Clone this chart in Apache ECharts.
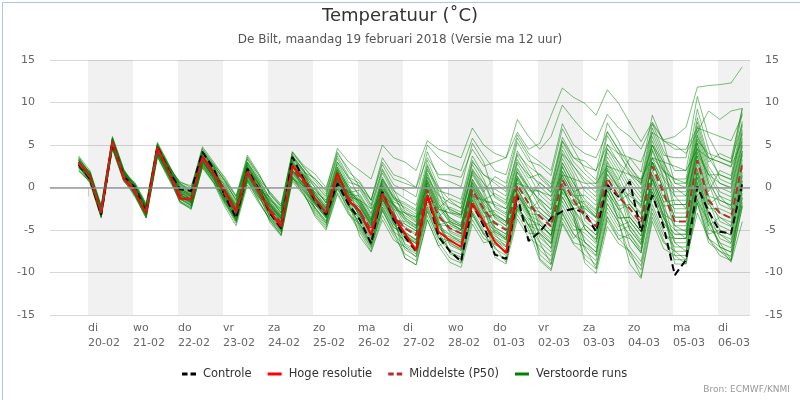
<!DOCTYPE html>
<html>
<head>
<meta charset="utf-8">
<title>Temperatuur De Bilt</title>
<script src="https://cdn.jsdelivr.net/npm/echarts@6.0.0/dist/echarts.min.js"></script>
<style>
  html, body { margin: 0; padding: 0; background: #ffffff; }
  #chart-container { width: 800px; height: 400px; }
</style>
</head>
<body>
<div id="chart-container"></div>
<script>
// day labels along the time axis (tick at 00:00 of each day)
const dayNames = ['di', 'wo', 'do', 'vr', 'za', 'zo', 'ma', 'di', 'wo', 'do', 'vr', 'za', 'zo', 'ma', 'di'];
const dayDates = ['20-02', '21-02', '22-02', '23-02', '24-02', '25-02', '26-02', '27-02', '28-02', '01-03', '02-03', '03-03', '04-03', '05-03', '06-03'];
const shadedDays = [0, 2, 4, 6, 8, 10, 12, 14];

// first value is 19-02 19:00, then every 6 hours (hours relative to 20-02 00:00)
const firstHour = -5;
const stepHours = 6;

const controle = [2.7, 1.0, -3.2, 5.3, 1.3, 0.0, -2.9, 4.8, 2.0, -0.2, -0.4, 4.2, 2.2, -1.0, -3.6, 2.2, -0.2,
    -3.0, -4.8, 3.6, 1.0, -1.5, -3.2, 0.5, -2.0, -3.8, -6.6, -0.5, -3.8, -5.8, -7.5, -0.9, -5.8,
    -7.5, -8.7, -1.9, -4.5, -7.9, -8.4, -1.0, -6.3, -5.2, -3.6, -2.8, -2.5, -3.0, -5.2, 0.3, -1.1,
    0.7, -5.2, -0.9, -4.6, -10.3, -8.5, 0.1, -2.8, -5.2, -5.4, 0.5];

const hogeResolutie = [3.0, 1.3, -3.0, 5.4, 1.1, -0.5, -3.0, 4.7, 1.9, -1.3, -1.4, 3.6, 1.7, -0.5, -2.8, 1.9, -0.4,
    -2.8, -4.6, 2.6, 0.9, -1.3, -3.0, 1.7, -1.5, -2.8, -5.6, -0.7, -3.4, -5.4, -7.4, -0.9, -5.2,
    -6.2, -7.0, -1.9, -4.0, -6.4, -7.7, -0.8];

const middelste = [2.8, 1.2, -2.9, 5.2, 1.4, -0.3, -2.8, 4.4, 1.9, -0.8, -1.5, 3.3, 1.5, -0.8, -3.0, 1.8, -0.3,
    -2.6, -4.2, 2.2, 0.6, -1.4, -3.0, 1.2, -1.2, -2.8, -5.0, -0.8, -3.2, -4.8, -5.6, -0.3, -3.4,
    -4.8, -5.4, -0.3, -2.5, -4.2, -5.0, 0.3, -1.9, -3.4, -4.6, 0.9, -1.5, -3.4, -4.6, 1.1, -1.1,
    -2.5, -4.2, 2.5, -0.7, -4.0, -4.0, 3.2, -1.5, -3.0, -3.6, 2.8];

const verstoordeRuns = [
    [3.1, 1.4, -2.7, 5.4, 1.6, -0.5, -3.0, 4.2, 1.7, -0.3, -1.0, 3.8, 2.0, -0.2, -2.4, 2.4, 0.3, -3.0, -4.6, 1.8, 0.2, -0.6, -2.2, 2.0, -0.4, -1.8, -4.0, 0.2, -2.2, -3.3, -4.1, 1.2, -1.9, -4.3, -4.9, 0.2, -2.0, -5.2, -6.0, -0.7, -2.9, -1.4, -2.6, 2.9, 0.5, -1.9, -3.1, 2.6, 0.4, -3.5, -5.2, 1.5, -1.7, -1.5, -1.5, 5.7, 1.0, -2.0, -2.6, 3.8],
    [2.4, 0.9, -3.2, 4.9, 1.1, 0.0, -2.5, 4.7, 2.2, -1.4, -2.1, 2.7, 0.9, -1.6, -3.8, 1.0, -1.1, -2.1, -3.7, 2.7, 1.1, -2.4, -4.0, 0.2, -2.2, -4.3, -6.5, -2.3, -4.7, -5.6, -6.4, -1.1, -4.2, -6.8, -7.4, -2.3, -4.5, -5.7, -6.5, -1.2, -3.4, -6.4, -7.6, -2.1, -4.5, -5.4, -6.6, -0.9, -3.1, -6.0, -7.7, -1.0, -4.2, -6.0, -6.0, 1.2, -3.5, -7.0, -7.6, -1.2],
    [3.4, 1.7, -2.4, 5.7, 1.9, 0.1, -2.4, 4.8, 2.3, 0.2, -0.5, 4.3, 2.5, -0.5, -2.7, 2.1, 0.0, -1.8, -3.4, 3.0, 1.4, 0.1, -1.5, 2.7, 0.3, -0.8, -3.0, 1.2, -1.2, -1.8, -2.6, 2.7, -0.4, -0.8, -1.4, 3.7, 1.5, 0.8, 0.0, 5.3, 3.1, 2.6, 1.4, 6.9, 4.5, 2.1, 0.9, 6.6, 4.4, 1.5, -0.2, 6.5, 3.3, -1.0, -1.0, 6.2, 1.5, 1.5, 0.9, 7.3],
    [2.6, 1.2, -2.9, 5.2, 1.4, -0.7, -3.2, 4.0, 1.5, -1.1, -1.8, 3.0, 1.2, -0.6, -2.8, 2.0, -0.1, -3.6, -5.2, 1.2, -0.4, -1.9, -3.5, 0.7, -1.7, -2.3, -4.5, -0.3, -2.7, -6.8, -7.6, -2.3, -5.4, -5.8, -6.4, -1.3, -3.5, -3.2, -4.0, 1.3, -0.9, -4.9, -6.1, -0.6, -3.0, -7.4, -8.6, -2.9, -5.1, -4.5, -6.2, 0.5, -2.7, -7.5, -7.5, -0.3, -5.0, -5.5, -6.1, 0.3],
    [2.9, 0.7, -3.4, 4.7, 0.9, 0.3, -2.2, 5.0, 2.5, -0.6, -1.3, 3.5, 1.7, -1.1, -3.3, 1.5, -0.6, -2.3, -3.9, 2.5, 0.9, -1.4, -3.0, 1.2, -1.2, -3.4, -5.6, -1.4, -3.8, -4.0, -4.8, 0.5, -2.6, -3.0, -3.6, 1.5, -0.7, -4.7, -5.5, -0.2, -2.4, -2.9, -4.1, 1.4, -1.0, -0.9, -2.1, 3.6, 1.4, -1.5, -3.2, 3.5, 0.3, -3.5, -3.5, 3.7, -1.0, -4.0, -4.6, 1.8],
    [2.2, 1.6, -2.5, 5.6, 1.8, -0.8, -3.3, 3.9, 1.4, -1.6, -2.3, 2.5, 0.7, -2.0, -4.2, 0.6, -1.5, -3.9, -5.5, 0.9, -0.7, -3.2, -4.8, -0.6, -3.0, -5.3, -7.5, -3.3, -5.7, -7.8, -8.6, -3.3, -6.4, -8.3, -8.9, -3.8, -6.0, -6.7, -7.5, -2.2, -4.4, -7.4, -8.6, -3.1, -5.5, -6.4, -7.6, -1.9, -4.1, -8.0, -9.7, -3.0, -6.2, -8.5, -8.5, -1.3, -6.0, -8.0, -8.6, -2.2],
    [3.3, 1.8, -2.3, 5.8, 2.0, 0.5, -2.0, 5.2, 2.7, 0.4, -0.3, 4.5, 2.7, 0.7, -1.5, 3.3, 1.2, -1.4, -3.0, 3.4, 1.8, 1.1, -0.5, 3.7, 1.3, -1.3, -3.5, 0.7, -1.7, -2.3, -3.1, 2.2, -0.9, -1.8, -2.4, 2.7, 0.5, -2.2, -3.0, 2.3, 0.1, -2.4, -3.6, 1.9, -0.5, 0.1, -1.1, 4.6, 2.4, 0.0, -1.7, 5.0, 1.8, 1.0, 1.0, 8.2, 3.5, 3.0, 2.4, 8.8],
    [2.8, 1.0, -3.1, 5.0, 1.2, -0.2, -2.7, 4.5, 2.0, -0.4, -1.1, 3.7, 1.9, -1.3, -3.5, 1.3, -0.8, -2.5, -4.1, 2.3, 0.7, -2.0, -3.6, 0.6, -1.8, -2.6, -4.8, -0.6, -3.0, -5.8, -6.6, -1.3, -4.4, -4.5, -5.1, 0.0, -2.2, -6.7, -7.5, -2.2, -4.4, -4.4, -5.6, -0.1, -2.5, -4.4, -5.6, 0.1, -2.1, -2.0, -3.7, 3.0, -0.2, -5.0, -5.0, 2.2, -2.5, -2.5, -3.1, 3.3],
    [3.7, 2.0, -2.1, 6.0, 2.2, -0.1, -2.6, 4.6, 2.1, -0.2, -0.9, 3.9, 2.1, 0.1, -2.1, 2.7, 0.6, -2.0, -3.6, 2.8, 1.2, -1.1, -2.7, 1.5, -0.9, -1.6, -3.8, 0.4, -2.0, -4.3, -5.1, 0.2, -2.9, -5.3, -5.9, -0.8, -3.0, -2.7, -3.5, 1.8, -0.4, -0.4, -1.6, 3.9, 1.5, -2.9, -4.1, 1.6, -0.6, -3.0, -4.7, 2.0, -1.2, -2.5, -2.5, 4.7, 0.0, 0.0, -0.6, 5.8],
    [2.0, 0.6, -3.5, 4.6, 0.8, -0.6, -3.1, 4.1, 1.6, -1.0, -1.7, 3.1, 1.3, 0.0, -2.2, 2.6, 0.5, -3.2, -4.8, 1.6, 0.0, -0.2, -1.8, 2.4, 0.0, -3.8, -6.0, -1.8, -4.2, -6.6, -7.4, -2.1, -5.2, -7.6, -8.2, -3.1, -5.3, -7.7, -8.5, -3.2, -5.4, -5.4, -6.6, -1.1, -3.5, -8.4, -9.6, -3.9, -6.1, -5.5, -7.2, -0.5, -3.7, -5.5, -5.5, 1.7, -3.0, -6.0, -6.6, -0.2],
    [3.0, 1.3, -2.8, 5.3, 1.5, 0.6, -1.9, 5.3, 2.8, 0.0, -0.7, 4.1, 2.3, -0.8, -3.0, 1.8, -0.3, -1.1, -2.7, 3.7, 2.1, -0.8, -2.4, 1.8, -0.6, -0.3, -2.5, 1.7, -0.7, -3.6, -4.4, 0.9, -2.2, -3.8, -4.4, 0.7, -1.5, -0.7, -1.5, 3.8, 1.6, -0.9, -2.1, 3.4, 1.0, -3.9, -5.1, 0.6, -1.6, -0.7, -2.4, 4.3, 1.1, -4.5, -4.5, 2.7, -2.0, -1.0, -1.6, 4.8],
    [2.5, 1.5, -2.6, 5.5, 1.7, -1.0, -3.5, 3.7, 1.2, -1.3, -2.0, 2.8, 1.0, -1.4, -3.6, 1.2, -0.9, -3.4, -5.0, 1.4, -0.2, -2.8, -4.4, -0.2, -2.6, -3.3, -5.5, -1.3, -3.7, -7.3, -8.1, -2.8, -5.9, -6.3, -6.9, -1.8, -4.0, -5.0, -5.8, -0.5, -2.7, -8.4, -9.6, -4.1, -6.5, -6.9, -8.1, -2.4, -4.6, -4.0, -5.7, 1.0, -2.2, -9.0, -9.0, -1.8, -6.5, -7.5, -8.1, -1.7],
    [3.2, 1.1, -3.0, 5.1, 1.3, 0.0, -2.5, 4.7, 2.2, -0.9, -1.6, 3.2, 1.4, 0.4, -1.8, 3.0, 0.9, -1.7, -3.3, 3.1, 1.5, 0.4, -1.2, 3.0, 0.6, 0.2, -2.0, 2.2, -0.2, -2.8, -3.6, 1.7, -1.4, -2.6, -3.2, 1.9, -0.3, -3.7, -4.5, 0.8, -1.4, 0.6, -0.6, 4.9, 2.5, 0.6, -0.6, 5.1, 2.9, 0.5, -1.2, 5.5, 2.3, -2.0, -2.0, 5.2, 0.5, -1.5, -2.1, 4.3],
    [2.7, 0.8, -3.3, 4.8, 1.0, -0.4, -2.9, 4.3, 1.8, -0.5, -1.2, 3.6, 1.8, -1.0, -3.2, 1.6, -0.5, -2.9, -4.5, 1.9, 0.3, -1.6, -3.2, 1.0, -1.4, -4.0, -6.2, -2.0, -4.4, -4.6, -5.4, -0.1, -3.2, -5.1, -5.7, -0.6, -2.8, -5.4, -6.2, -0.9, -3.1, -3.2, -4.4, 1.1, -1.3, -2.4, -3.6, 2.1, -0.1, -5.0, -6.7, 0.0, -3.2, -4.0, -4.0, 3.2, -1.5, -5.0, -5.6, 0.8],
    [3.0, 1.4, -2.6, 5.5, 1.8, 0.2, -2.3, 5.0, 2.6, 0.3, -0.4, 4.2, 2.4, 0.5, -1.4, 3.4, 1.5, -0.8, -2.2, 3.8, 2.0, 0.4, -1.0, 4.0, 2.2, 0.0, -1.5, 3.0, 1.0, 0.5, 0.0, 3.5, 1.5, 1.5, 1.2, 4.5, 2.5, 3.0, 3.5, 6.5, 4.5, 5.2, 8.5, 11.7, 10.6, 9.9, 8.5, 11.5, 9.9, 7.6, 5.4, 7.7, 5.6, 6.0, 7.1, 11.8, 12.0, 12.1, 12.3, 14.2],
    [2.9, 1.3, -2.7, 5.4, 1.6, 0.4, -2.1, 4.9, 2.4, 0.6, 0.2, 4.0, 2.6, 0.8, -1.0, 3.0, 1.0, -0.5, -2.0, 4.2, 2.4, 1.0, -0.3, 4.6, 3.0, 2.0, 1.0, 5.0, 3.5, 3.0, 2.0, 5.5, 4.5, 4.0, 3.5, 7.0, 5.0, 4.0, 3.5, 8.0, 6.0, 4.5, 6.0, 9.7, 8.0, 6.5, 5.5, 8.6, 7.0, 6.0, 4.5, 7.5, 5.5, 5.0, 4.0, 6.5, 9.0, 8.0, 9.0, 9.3],
    [3.0, 1.9, -2.2, 5.9, 2.1, 0.2, -2.3, 4.9, 2.4, 0.7, 0.0, 4.8, 3.0, 1.0, -1.2, 3.6, 1.5, -0.6, -2.2, 4.2, 2.6, 1.6, 0.0, 4.2, 1.8, 0.7, -1.5, 2.7, 0.3, -0.3, -1.1, 4.2, 1.1, 0.7, 0.1, 5.2, 3.0, -1.2, -2.0, 3.3, 1.1, 1.6, 0.4, 5.9, 3.5, 3.1, 1.9, 7.6, 5.4, 2.5, 0.8, 7.5, 4.3, 2.0, 2.0, 9.2, 4.5, 1.0, 0.4, 6.8],
    [2.3, 1.1, -3.0, 5.1, 1.3, -0.9, -3.4, 3.8, 1.3, -1.7, -2.4, 2.4, 0.6, -1.2, -3.4, 1.4, -0.7, -4.1, -5.7, 0.7, -0.9, -2.3, -3.9, 0.3, -2.1, -4.8, -7.0, -2.8, -5.2, -6.2, -7.0, -1.7, -4.8, -5.6, -6.2, -1.1, -3.3, -8.2, -9.0, -3.7, -5.9, -6.9, -8.1, -2.6, -5.0, -4.9, -6.1, -0.4, -2.6, -7.0, -8.7, -2.0, -5.2, -7.0, -7.0, 0.2, -4.5, -3.5, -4.1, 2.3],
    [3.5, 1.6, -2.5, 5.6, 1.8, 0.4, -2.1, 5.1, 2.6, -0.7, -1.4, 3.4, 1.6, -0.4, -2.6, 2.2, 0.1, -2.2, -3.8, 2.6, 1.0, -0.5, -2.1, 2.1, -0.3, -2.2, -4.4, -0.2, -2.6, -3.0, -3.8, 1.5, -1.6, -3.6, -4.2, 0.9, -1.3, -3.2, -4.0, 1.3, -0.9, -3.9, -5.1, 0.4, -2.0, -1.6, -2.8, 2.9, 0.7, -2.0, -3.7, 3.0, -0.2, 0.0, 0.0, 7.2, 2.5, 0.5, -0.1, 6.3],
    [2.5, 0.5, -3.6, 4.5, 0.7, -0.5, -3.0, 4.2, 1.7, -1.2, -1.9, 2.9, 1.1, -1.8, -4.0, 0.8, -1.3, -2.8, -4.4, 2.0, 0.4, -2.6, -4.2, 0.0, -2.4, -3.6, -5.8, -1.6, -4.0, -5.3, -6.1, -0.8, -3.9, -6.6, -7.2, -2.1, -4.3, -4.0, -4.8, 0.5, -1.7, -5.9, -7.1, -1.6, -4.0, -5.9, -7.1, -1.4, -3.6, -3.5, -5.2, 1.5, -1.7, -6.5, -6.5, 0.7, -4.0, -6.5, -7.1, -0.7],
    [2.9, 1.4, -2.7, 5.4, 1.6, -0.2, -2.7, 4.5, 2.0, -0.1, -0.8, 4.0, 2.2, -0.5, -2.7, 2.1, 0.0, -1.6, -3.2, 3.2, 1.6, -1.0, -2.6, 1.6, -0.8, -1.0, -3.2, 1.0, -1.4, -2.0, -2.8, 2.5, -0.6, -4.0, -4.6, 0.5, -1.7, -1.7, -2.5, 2.8, 0.6, -1.9, -3.1, 2.4, 0.0, -3.4, -4.6, 1.1, -1.1, 1.0, -0.7, 6.0, 2.8, -3.0, -3.0, 4.2, -0.5, 2.0, 1.4, 7.8],
    [2.6, 1.3, -2.8, 5.3, 1.5, -0.6, -3.1, 4.1, 1.6, -1.4, -2.1, 2.7, 0.9, -0.9, -3.1, 1.7, -0.4, -3.1, -4.7, 1.7, 0.1, -2.0, -3.6, 0.6, -1.8, -5.8, -7.6, -3.8, -6.2, -7.0, -7.8, -2.5, -5.6, -7.3, -7.9, -2.8, -5.0, -6.0, -6.8, -1.5, -3.7, -4.4, -5.6, -0.1, -2.5, -6.4, -7.6, -1.9, -4.1, -9.0, -10.7, -4.0, -7.2, -8.0, -8.0, -0.8, -5.5, -5.0, -5.6, 0.8],
    [3.1, 1.5, -2.6, 5.5, 1.7, 0.2, -2.3, 4.9, 2.4, 0.1, -0.6, 4.2, 2.4, 0.2, -2.0, 2.8, 0.7, -2.4, -4.0, 2.4, 0.8, -0.2, -1.8, 2.4, 0.0, -2.0, -4.2, 0.0, -2.4, -4.8, -5.6, -0.3, -3.4, -2.3, -2.9, 2.2, 0.0, -0.2, -1.0, 4.3, 2.1, 0.1, -1.1, 4.4, 2.0, -0.4, -1.6, 4.1, 1.9, -0.5, -2.2, 4.5, 1.3, -0.5, -0.5, 6.7, 2.0, -0.5, -1.1, 5.3],
    [1.9, 0.7, -3.4, 4.7, 0.9, -1.1, -3.6, 3.6, 1.1, -0.9, -1.6, 3.2, 1.4, -1.5, -3.7, 1.1, -1.0, -3.5, -5.1, 1.3, -0.3, -1.7, -3.3, 0.9, -1.5, -3.1, -5.3, -1.1, -3.5, -8.3, -9.1, -3.8, -6.9, -8.8, -9.4, -4.3, -6.5, -6.2, -7.0, -2.5, -3.9, -7.9, -9.1, -3.6, -6.0, -4.4, -5.6, 0.1, -2.1, -5.0, -6.7, 0.0, -3.2, -8.0, -9.0, -1.8, -6.0, -7.5, -8.6, -2.2],
    [3.3, 1.2, -2.9, 5.2, 1.4, -0.1, -2.6, 4.6, 2.1, -0.4, -1.1, 3.7, 1.9, -0.1, -2.3, 2.5, 0.4, -1.3, -2.9, 3.5, 1.9, -1.3, -2.9, 1.3, -1.1, -1.5, -3.7, 0.5, -1.9, -3.8, -4.6, 0.7, -2.4, -1.3, -1.9, 3.2, 1.0, -2.4, -3.2, 2.1, -0.1, -1.4, -2.6, 2.9, 0.5, -1.4, -2.6, 3.1, 0.9, 3.5, 1.8, 8.5, 5.3, 0.5, 0.5, 7.7, 3.0, 4.0, 3.4, 9.3],
    [2.4, 1.0, -3.1, 5.0, 1.2, 0.1, -2.4, 4.8, 2.3, -1.1, -1.8, 3.0, 1.2, -1.7, -3.9, 0.9, -1.2, -1.9, -3.5, 2.9, 1.3, -1.8, -3.4, 0.8, -1.6, -4.6, -6.8, -2.6, -5.0, -8.3, -9.1, -3.8, -6.9, -6.0, -6.6, -1.5, -3.7, -7.2, -8.0, -2.7, -4.9, -8.6, -9.8, -4.3, -6.7, -7.9, -9.1, -3.4, -5.6, -6.0, -7.7, -1.0, -4.2, -5.5, -5.5, 1.7, -3.0, -4.5, -5.1, 1.3],
    [3.6, 1.7, -2.4, 5.7, 1.9, -0.4, -2.9, 4.3, 1.8, 0.5, -0.2, 4.6, 2.8, 1.2, -1.0, 3.8, 1.7, -0.8, -2.4, 4.0, 2.4, 0.8, -0.8, 3.4, 1.0, 0.0, -2.2, 2.0, -0.4, -1.3, -2.1, 3.2, 0.1, -2.8, -3.4, 1.7, -0.5, 1.3, 0.5, 5.8, 3.6, 1.1, -0.1, 5.4, 3.0, 1.6, 0.4, 6.1, 3.9, 2.0, 0.3, 7.0, 3.8, 3.5, 3.5, 10.7, 6.0, 3.5, 2.9, 9.3],
    [2.1, 0.8, -3.3, 4.8, 1.0, -0.7, -3.2, 4.0, 1.5, -1.8, -2.5, 2.3, 0.5, -2.3, -4.5, 0.3, -1.8, -3.7, -5.3, 1.1, -0.5, -3.4, -5.0, -0.8, -3.2, -4.3, -6.5, -2.3, -4.7, -5.4, -6.2, -0.9, -4.0, -7.8, -8.4, -3.3, -5.5, -5.2, -6.0, -0.7, -2.9, -5.4, -6.6, -1.1, -3.5, -8.9, -10.1, -4.6, -6.6, -7.5, -9.2, -2.5, -5.7, -6.0, -6.0, 1.2, -3.5, -7.0, -7.6, -1.2],
    [2.8, 1.8, -2.3, 5.8, 2.0, 0.0, -2.5, 4.7, 2.2, -0.6, -1.3, 3.5, 1.7, -0.3, -2.5, 2.3, 0.2, -2.8, -4.4, 2.0, 0.4, -0.9, -2.5, 1.7, -0.7, -3.3, -5.5, -1.3, -3.7, -4.3, -5.1, 0.2, -2.9, -4.8, -5.4, -0.3, -2.5, -4.7, -5.5, -0.2, -2.4, -2.4, -3.6, 1.9, -0.5, -4.9, -6.1, -0.4, -2.6, -2.0, -3.7, 3.0, -0.2, -3.5, -3.5, 3.7, -1.0, -1.5, -2.1, 4.3],
    [3.0, 1.0, -3.1, 5.0, 1.2, -0.8, -3.3, 3.9, 1.4, -0.8, -1.5, 3.3, 1.5, -0.7, -2.9, 1.9, -0.2, -2.1, -3.7, 2.7, 1.1, -1.2, -2.8, 1.4, -1.0, -2.4, -4.6, -0.4, -2.8, -5.8, -6.6, -1.3, -4.4, -4.0, -4.6, 0.5, -1.7, -3.4, -4.2, 1.1, -1.1, -4.4, -5.6, -0.1, -2.5, -2.2, -3.4, 2.3, 0.1, -4.0, -5.7, 1.0, -2.2, -2.0, -2.0, 5.2, 0.5, -3.0, -3.6, 2.8],
    [2.9, 1.5, -2.5, 5.0, 1.8, 0.0, -2.2, 4.0, 2.0, -0.2, -0.8, 3.0, 1.5, -0.5, -2.0, 1.5, 0.0, -1.5, -2.5, 1.0, 0.2, -0.5, -1.5, 0.5, -0.5, -1.5, -2.5, -1.0, -2.0, -3.0, -3.5, -1.5, -2.5, -3.0, -3.2, -1.0, -1.5, -2.0, -2.5, 0.5, 0.0, -0.5, -1.0, 1.5, 1.0, 0.5, 0.5, 2.5, 2.0, 1.5, 1.0, 3.5, 3.0, 2.5, 2.0, 4.5, 3.5, 3.0, 2.5, 5.5],
    [2.5, 0.9, -3.3, 5.0, 1.0, -0.6, -3.3, 4.2, 1.6, -1.2, -2.2, 3.2, 1.0, -1.4, -3.8, 1.6, -0.8, -3.2, -5.0, 2.0, 0.0, -2.4, -4.2, 1.0, -2.0, -4.4, -6.8, -1.0, -4.2, -6.0, -7.2, -0.8, -4.6, -6.4, -7.4, -0.8, -4.0, -6.0, -7.4, 0.0, -3.0, -5.5, -7.2, 0.5, -3.2, -6.5, -8.0, 0.0, -4.0, -5.5, -7.5, 1.0, -3.5, -6.5, -7.5, 0.5, -4.5, -6.5, -8.5, 0.0],
    [3.2, 1.6, -2.6, 5.5, 1.9, 0.3, -2.4, 4.9, 2.5, 0.5, -0.6, 4.3, 2.6, 0.8, -1.6, 2.9, 0.8, -1.2, -3.0, 3.6, 2.0, 0.0, -1.8, 3.0, 1.2, 0.5, -1.5, 3.5, 1.5, 1.0, 0.0, 5.0, 3.5, 2.5, 2.0, 5.8, 3.8, 2.0, 1.5, 6.2, 4.0, 3.0, 2.0, 7.5, 5.0, 4.0, 3.5, 6.5, 4.5, 2.5, 0.5, 5.0, 2.0, 0.0, -1.0, 4.0, 1.5, 0.5, 0.0, 5.0],
    [2.6, 1.0, -3.0, 5.2, 1.3, -0.4, -2.9, 4.4, 1.8, -0.9, -1.4, 3.0, 1.3, -1.2, -3.4, 1.4, -0.8, -2.2, -3.6, 2.6, 0.8, -1.8, -3.4, 1.8, -0.8, -2.2, -4.2, 0.0, -2.2, -3.8, -4.8, 0.8, -2.0, -3.5, -4.5, 1.0, -1.2, -3.0, -4.0, 1.8, 0.0, -1.5, -3.5, 2.5, -0.5, -3.0, -5.0, 0.5, -2.5, -4.5, -6.5, -0.5, -3.5, -5.0, -6.0, -1.5, -4.0, -5.5, -6.5, -2.0],
    [2.4, 0.8, -3.4, 4.8, 0.8, -0.9, -3.6, 3.6, 1.0, -1.6, -2.6, 2.6, 0.6, -1.8, -4.0, 0.8, -1.6, -3.8, -5.6, 1.2, -0.8, -3.0, -4.6, 0.0, -2.8, -5.0, -7.2, -2.6, -5.4, -7.0, -8.2, -2.8, -6.0, -7.5, -8.8, -3.0, -5.5, -7.0, -8.8, -2.5, -4.5, -5.0, -6.5, -0.5, -2.0, -2.5, -3.5, 1.5, 0.0, -1.0, -2.0, 3.5, 2.0, 1.0, 0.5, 5.5, 4.0, 3.5, 3.0, 7.5],
    [3.0, 1.2, -2.8, 5.3, 1.6, -0.1, -2.6, 4.6, 2.2, -0.5, -1.4, 3.4, 1.7, -0.6, -2.8, 2.0, -0.1, -2.4, -4.0, 2.4, 0.8, -1.2, -2.6, 1.5, -0.6, -2.0, -4.4, 0.2, -2.0, -3.5, -4.5, 0.5, -2.5, -4.0, -5.0, 0.2, -2.0, -3.5, -4.5, 1.0, -1.0, -3.0, -4.0, 1.5, -1.0, -2.0, -3.5, 2.0, 0.0, -1.5, -3.0, 3.0, 1.0, -1.0, -2.5, 4.5, 1.5, -1.0, -2.5, 4.0],
    [2.7, 1.1, -3.0, 5.1, 1.2, -0.4, -3.0, 4.2, 1.8, -0.8, -1.7, 3.1, 1.3, -1.0, -3.3, 1.6, -0.5, -2.8, -4.5, 2.0, 0.4, -1.6, -3.4, 0.9, -1.6, -3.2, -5.6, -1.4, -3.8, -5.5, -6.6, -1.2, -4.5, -5.5, -6.5, -1.5, -4.0, -5.5, -7.0, -2.0, -4.5, -6.5, -9.0, -3.0, -5.5, -7.0, -9.5, -3.5, -6.0, -7.5, -10.5, -3.5, -6.5, -7.5, -8.5, -3.0, -6.0, -7.0, -8.8, -4.0],
    [3.3, 1.6, -2.6, 5.6, 1.8, 0.2, -2.4, 4.8, 2.3, 0.0, -1.0, 3.8, 2.0, -0.2, -2.6, 2.4, 0.5, -2.0, -3.6, 2.6, 1.2, -0.8, -2.4, 2.2, 0.0, -1.5, -3.8, 1.0, -1.0, -2.5, -3.4, 2.0, 0.0, -1.5, -2.5, 3.0, 1.5, 0.5, -0.5, 4.0, 2.5, 1.5, 0.0, 5.5, 3.5, 2.5, 2.0, 5.0, 4.0, 3.5, 3.0, 6.5, 5.5, 4.5, 4.5, 7.0, 6.5, 6.0, 5.5, 8.5],
    [2.6, 0.9, -3.1, 5.0, 1.3, -0.2, -2.7, 4.5, 1.9, -1.0, -1.8, 3.2, 1.3, -0.9, -3.0, 1.7, -0.4, -2.6, -4.2, 2.1, 0.5, -1.8, -3.3, 1.1, -1.4, -3.0, -5.2, -0.6, -3.4, -5.2, -6.2, -0.2, -3.8, -4.2, -5.0, 0.0, -2.8, -4.8, -6.2, -0.8, -3.2, -4.0, -5.8, 0.2, -2.6, -4.8, -6.4, -0.8, -3.6, -3.5, -5.2, 1.2, -2.5, -4.5, -5.2, 2.0, -2.0, -3.5, -4.5, 1.5],
    [2.9, 1.3, -2.7, 5.3, 1.5, 0.1, -2.5, 4.7, 2.3, -0.3, -1.0, 3.6, 2.0, -0.2, -2.4, 2.3, 0.4, -1.9, -3.4, 2.9, 1.4, -0.8, -2.4, 2.0, -0.2, -1.8, -4.0, 0.8, -1.2, -3.0, -4.0, 1.2, -1.0, -2.5, -3.2, 2.0, 0.5, -1.0, -1.8, 3.0, 1.5, 0.5, -0.5, 4.0, 2.5, 1.0, 0.0, 4.5, 3.0, 1.5, 0.5, 5.0, 3.0, 0.5, 0.0, 6.0, 3.5, 1.5, 1.0, 6.5]
];

const fontFamily = '"DejaVu Sans", Verdana, sans-serif';

// axis window in hours relative to 20-02 00:00
const xMin = -20.3;
const xMax = 353.1;

// legend glyphs: solid bar and two dashes
const solidIcon = 'path://M0,0H14V3H0Z';
const dashIcon = 'path://M0,0H5.5V3H0Z M8.5,0H14V3H8.5Z';

const toPoints = (values) => values.map((v, i) => [firstHour + i * stepHours, v]);

function drawPlume() {
    const chartContainer = document.getElementById('chart-container');
    if (!chartContainer) {
        console.error('Chart container element not found!');
        return;
    }
    const myChart = echarts.init(chartContainer);

    const dayTicks = dayDates.map((d, i) => i * 24);

    const bands = shadedDays.map(k => [
        { xAxis: k * 24 },
        { xAxis: Math.min((k + 1) * 24, xMax) }
    ]);

    const series = [];

    // background: alternate day shading and the zero line
    series.push({
        name: 'achtergrond',
        type: 'line',
        data: [],
        silent: true,
        z: 1,
        markArea: {
            silent: true,
            itemStyle: { color: 'rgba(0, 0, 0, 0.055)' },
            data: bands
        },
        markLine: {
            silent: true,
            symbol: 'none',
            label: { show: false },
            lineStyle: { color: '#999999', width: 1.5, type: 'solid' },
            data: [{ yAxis: 0 }]
        }
    });

    verstoordeRuns.forEach(run => {
        series.push({
            name: 'Verstoorde runs',
            type: 'line',
            symbol: 'none',
            silent: true,
            z: 2,
            itemStyle: { color: '#008000' },
            lineStyle: { color: '#008000', width: 1, opacity: 0.5 },
            data: toPoints(run)
        });
    });

    series.push({
        name: 'Controle',
        type: 'line',
        symbol: 'none',
        z: 3,
        itemStyle: { color: '#000000' },
        lineStyle: { color: '#000000', width: 2, type: [7, 4] },
        data: toPoints(controle)
    });

    series.push({
        name: 'Hoge resolutie',
        type: 'line',
        symbol: 'none',
        z: 4,
        itemStyle: { color: '#ff0000' },
        lineStyle: { color: '#ff0000', width: 2 },
        data: toPoints(hogeResolutie)
    });

    series.push({
        name: 'Middelste (P50)',
        type: 'line',
        symbol: 'none',
        z: 5,
        itemStyle: { color: '#b03030' },
        lineStyle: { color: '#b03030', width: 2, type: [7, 4] },
        data: toPoints(middelste)
    });

    const yAxisBase = {
        type: 'value',
        min: -15,
        max: 15,
        interval: 5,
        axisLine: { show: false },
        axisTick: { show: false },
        axisLabel: { color: '#666666', fontSize: 11, margin: 15, fontFamily: fontFamily }
    };

    const options = {
        animation: false,
        backgroundColor: '#ffffff',
        textStyle: { fontFamily: fontFamily },
        title: [{
            text: 'Temperatuur (˚C)',
            left: 'center',
            top: 7,
            padding: 0,
            textStyle: { fontSize: 18, fontWeight: 'normal', color: '#333333', fontFamily: fontFamily }
        }, {
            text: 'De Bilt, maandag 19 februari 2018 (Versie ma 12 uur)',
            left: 'center',
            top: 34,
            padding: 0,
            textStyle: { fontSize: 12, fontWeight: 'normal', color: '#555555', fontFamily: fontFamily }
        }],
        legend: {
            data: [
                { name: 'Controle', icon: dashIcon, itemStyle: { color: '#000000' } },
                { name: 'Hoge resolutie', icon: solidIcon, itemStyle: { color: '#ff0000' } },
                { name: 'Middelste (P50)', icon: dashIcon, itemStyle: { color: '#b03030' } },
                { name: 'Verstoorde runs', icon: solidIcon, itemStyle: { color: '#008000', opacity: 1 } }
            ],
            top: 368,
            left: 182,
            padding: 0,
            itemWidth: 14,
            itemHeight: 3,
            itemGap: 16,
            textStyle: { fontSize: 11.5, color: '#333333', fontFamily: fontFamily, padding: [0, 0, 0, 2] }
        },
        grid: {
            left: 50,
            right: 50,
            top: 60,
            bottom: 85,
            containLabel: false
        },
        xAxis: {
            type: 'value',
            min: xMin,
            max: xMax,
            axisLine: { lineStyle: { color: '#ccd6eb' } },
            axisTick: {
                show: true,
                customValues: dayTicks,
                length: 9,
                lineStyle: { color: '#ccd6eb' }
            },
            axisLabel: {
                customValues: dayTicks,
                formatter: function (value) {
                    const k = Math.round(value / 24);
                    return dayNames[k] + '\n' + dayDates[k];
                },
                align: 'left',
                color: '#666666',
                fontSize: 11,
                lineHeight: 15,
                margin: 6,
                fontFamily: fontFamily
            },
            splitLine: { show: false }
        },
        yAxis: [
            Object.assign({}, yAxisBase, {
                position: 'left',
                splitLine: { show: true, lineStyle: { color: '#d8d8d8' } }
            }),
            Object.assign({}, yAxisBase, {
                position: 'right',
                splitLine: { show: false }
            })
        ],
        graphic: [{
            type: 'text',
            right: 10,
            top: 385,
            style: { text: 'Bron: ECMWF/KNMI', fill: '#999999', fontSize: 9, fontFamily: fontFamily }
        }, {
            type: 'rect',
            left: 0,
            top: 0,
            shape: { x: 0.5, y: 0.5, width: 799, height: 399 },
            style: { fill: 'none', stroke: '#a9c6ea', lineWidth: 1 },
            silent: true
        }],
        series: series
    };

    myChart.setOption(options);

    window.addEventListener('resize', function () {
        myChart.resize();
    });
}

drawPlume();
</script>
</body>
</html>
